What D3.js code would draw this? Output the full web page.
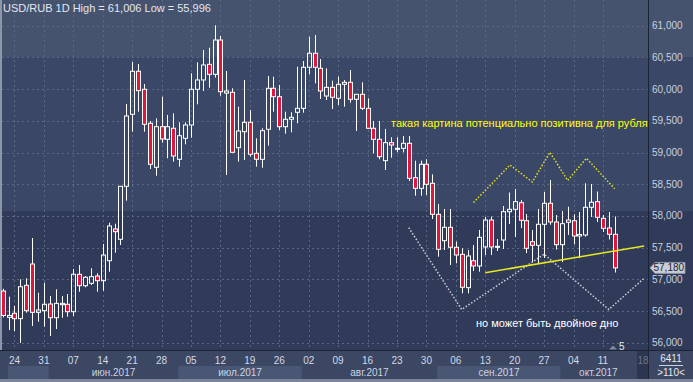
<!DOCTYPE html>
<html>
<head>
<meta charset="utf-8">
<script src="https://cdn.jsdelivr.net/npm/d3@7"></script>
<style>
  body { margin: 0; background: #2f3b58; }
  svg { display: block; }
  text { font-family: "Liberation Sans", Arial, sans-serif; }
</style>
</head>
<body>
<svg id="chart"></svg>
<script>
// USD/RUB daily candles, 22 May 2017 .. 13 Oct 2017
const opens = [56.815, 56.40, 56.464, 56.379, 56.905, 57.241, 56.479, 56.505, 56.61, 56.394,
  56.60, 56.606, 56.489, 57.079, 56.899, 56.937, 57.052, 56.978, 57.293, 57.793,
  57.631, 58.467, 59.603, 60.281, 59.997, 59.461, 58.767, 59.407, 59.208, 59.382,
  58.893, 59.224, 59.434, 59.997, 60.144, 60.391, 60.233, 60.774, 59.938, 59.95,
  59.076, 59.328, 59.476, 58.987, 58.893, 59.366, 60.013, 59.88, 59.407, 59.524,
  59.634, 59.697, 60.344, 60.565, 60.328, 59.891, 60.028, 59.855, 60.076, 60.107,
  59.839, 59.918, 59.697, 59.382, 59.208, 58.871, 59.155, 59.05, 59.066, 59.145,
  58.603, 58.435, 58.814, 58.514, 58.025, 57.609, 57.82, 57.505, 57.394, 56.868,
  57.293, 57.21, 57.51, 57.935, 57.51, 57.62, 58.066, 58.104, 58.208, 57.924,
  57.593, 57.536, 57.868, 58.199, 57.904, 57.546, 57.899, 57.924, 57.683, 57.699,
  58.136, 58.224, 57.962, 57.809, 57.71];
const highs = [56.85, 56.726, 56.579, 57.00, 57.016, 57.651, 56.789, 56.946, 56.737, 56.842,
  56.737, 56.768, 57.162, 57.226, 57.052, 57.174, 57.095, 57.557, 57.893, 57.877,
  58.47, 59.765, 60.427, 60.396, 60.08, 59.497, 59.539, 59.88, 59.592, 59.618,
  59.476, 59.476, 60.249, 60.423, 60.617, 60.653, 61.006, 60.838, 60.285, 60.013,
  59.722, 60.144, 59.67, 59.224, 59.382, 60.207, 60.196, 60.065, 59.644, 59.634,
  60.353, 60.443, 60.826, 60.853, 60.475, 60.328, 60.132, 60.196, 60.144, 60.301,
  59.918, 60.107, 59.855, 59.497, 59.497, 59.371, 59.24, 59.24, 59.26, 59.26,
  58.871, 58.871, 58.893, 58.656, 58.188, 58.109, 58.109, 57.593, 57.489, 57.462,
  57.541, 57.778, 57.983, 57.99, 57.636, 58.156, 58.369, 58.424, 58.251, 58.03,
  57.778, 58.109, 58.377, 58.566, 58.014, 58.077, 58.145, 58.025, 58.062, 58.514,
  58.503, 58.385, 58.014, 58.062, 57.991];
const lows = [56.40, 56.20, 56.185, 55.996, 56.473, 56.263, 56.331, 56.252, 56.106, 56.216,
  56.394, 56.41, 56.421, 56.804, 56.874, 56.91, 56.804, 56.82, 57.12, 57.42,
  57.541, 58.24, 59.328, 59.644, 59.328, 58.74, 58.634, 59.155, 58.909, 58.855,
  58.776, 59.129, 59.233, 59.76, 59.97, 60.022, 60.18, 59.896, 58.645, 59.0,
  58.855, 58.882, 58.934, 58.776, 58.76, 59.107, 59.644, 59.355, 59.297, 59.319,
  59.461, 59.628, 60.233, 60.091, 59.844, 59.828, 59.686, 59.749, 59.722, 59.785,
  59.339, 59.67, 59.371, 58.987, 58.893, 58.724, 58.918, 59.003, 59.003, 58.55,
  58.319, 58.319, 58.33, 57.951, 57.356, 57.462, 57.226, 57.252, 56.779, 56.779,
  57.131, 57.12, 57.383, 57.383, 57.446, 57.478, 57.872, 57.667, 57.809, 57.413,
  57.273, 57.252, 57.336, 57.861, 57.47, 57.273, 57.699, 57.552, 57.336, 57.672,
  57.983, 57.904, 57.746, 57.628, 57.107];
const closes = [56.43, 56.43, 56.379, 56.883, 56.505, 56.479, 56.516, 56.606, 56.394, 56.621,
  56.621, 56.489, 57.079, 56.899, 57.032, 57.041, 56.978, 57.383, 57.841, 57.751,
  58.467, 59.576, 60.281, 59.975, 59.445, 58.814, 59.407, 59.213, 59.407, 58.945,
  59.265, 59.434, 59.997, 60.144, 60.38, 60.233, 60.774, 59.959, 59.97, 59.003,
  59.339, 59.476, 58.972, 58.893, 59.344, 60.013, 59.88, 59.407, 59.524, 59.555,
  59.697, 60.344, 60.565, 60.344, 59.97, 60.028, 59.871, 60.076, 60.107, 59.839,
  59.918, 59.697, 59.382, 59.208, 58.934, 59.155, 59.118, 59.066, 59.145, 58.593,
  58.435, 58.814, 58.498, 58.025, 57.473, 57.82, 57.505, 57.383, 56.874, 57.368,
  57.21, 57.662, 57.935, 57.51, 57.52, 58.066, 58.104, 58.224, 57.931, 57.489,
  57.536, 57.868, 58.199, 57.904, 57.546, 57.877, 57.935, 57.683, 57.707, 58.136,
  58.215, 57.978, 57.804, 57.71, 57.18];

const firstDay = "2017-05-22";
const lastDay = "2017-10-13";
const tickDates = ["2017-05-24", "2017-05-31", "2017-06-07", "2017-06-14", "2017-06-21", "2017-06-28",
  "2017-07-05", "2017-07-12", "2017-07-19", "2017-07-26", "2017-08-02", "2017-08-09", "2017-08-16",
  "2017-08-23", "2017-08-30", "2017-09-06", "2017-09-13", "2017-09-20", "2017-09-27", "2017-10-04",
  "2017-10-11"];
const tickLabels = ["24", "31", "07", "14", "21", "28", "05", "12", "19", "26", "02", "09", "16",
  "23", "30", "06", "13", "20", "27", "04", "11"];
const monthKeys = ["2017-05", "2017-06", "2017-07", "2017-08", "2017-09", "2017-10"];
const monthLabels = ["", "июн.2017", "июл.2017", "авг.2017", "сен.2017", "окт.2017"];
const priceTicks = [56, 56.5, 57, 57.5, 58, 58.5, 59, 59.5, 60, 60.5, 61];
const lastPrice = 57.180;

// annotations, [bar index, price]
const supportLine = [[82, 57.104], [109, 57.525]];
const topZigzag = [[80, 58.211], [86.2, 58.803], [90, 58.535], [93, 59.003], [96, 58.558],
  [99.2, 58.909], [104, 58.427]];
const bottomZigzag = [[69, 57.814], [78, 56.524], [92, 57.396], [103, 56.524], [109, 57.016]];

const W = 693, H = 382;
const plotRight = 648, plotBottom = 350;

const parse = d3.timeParse("%Y-%m-%d");
const days = d3.timeDay.range(parse(firstDay), d3.timeDay.offset(parse(lastDay), 1))
  .filter(d => d.getDay() !== 0 && d.getDay() !== 6);
const fmtKey = d3.timeFormat("%Y-%m-%d");
const dayKeys = days.map(fmtKey);

const bars = days.map((d, i) => ({
  i: i, date: d, o: opens[i], h: highs[i], l: lows[i], c: closes[i]
}));

const x = d3.scaleLinear().domain([0, bars.length - 1]).range([2.7, 614.7]);
const y = d3.scaleLinear().domain([56, 61]).range([342.7, 25.7]);
const fmtPrice = v => v.toFixed(3).replace(".", ",");
const px = v => Math.round(v) + 0.5;

const svg = d3.select("#chart").attr("width", W).attr("height", H);

// background bands
const bands = [
  { y0: 0, y1: 57, fill: "#45536f" },
  { y0: 57, y1: 211, fill: "#3a4766" },
  { y0: 211, y1: plotBottom, fill: "#2f3b58" }
];
svg.selectAll(".band").data(bands).join("rect")
  .attr("x", 0).attr("y", d => d.y0)
  .attr("width", W).attr("height", d => d.y1 - d.y0)
  .attr("fill", d => d.fill);

// left border
svg.append("rect").attr("x", 0).attr("y", 0).attr("width", 2).attr("height", plotBottom)
  .attr("fill", "#8c95a9");

// grid
const grid = svg.append("g").attr("stroke", "#5b6783").attr("stroke-dasharray", "2,3");
grid.selectAll(".hg").data(priceTicks).join("line")
  .attr("x1", 2).attr("x2", plotRight)
  .attr("y1", d => px(y(d))).attr("y2", d => px(y(d)));
const tickIdx = tickDates.map(t => dayKeys.indexOf(t));
grid.selectAll(".vg").data(tickIdx).join("line")
  .attr("x1", d => px(x(d))).attr("x2", d => px(x(d)))
  .attr("y1", 0).attr("y2", plotBottom);

// candles: wick split around the body so hollow bodies stay clean
const candles = svg.append("g").selectAll("g").data(bars).join("g");
candles.append("line")
  .attr("x1", d => px(x(d.i))).attr("x2", d => px(x(d.i)))
  .attr("y1", d => y(d.h)).attr("y2", d => y(Math.max(d.o, d.c)))
  .attr("stroke", "#ffffff").attr("stroke-width", 1);
candles.append("line")
  .attr("x1", d => px(x(d.i))).attr("x2", d => px(x(d.i)))
  .attr("y1", d => y(Math.min(d.o, d.c))).attr("y2", d => y(d.l))
  .attr("stroke", "#ffffff").attr("stroke-width", 1);
candles.append("rect")
  .attr("x", d => Math.round(x(d.i)) - 1.5)
  .attr("width", 4)
  .attr("y", d => y(Math.max(d.o, d.c)))
  .attr("height", d => Math.max(1, Math.abs(y(d.o) - y(d.c))))
  .attr("fill", d => d.c < d.o ? "#e0163c" : "none")
  .attr("stroke", "#ffffff").attr("stroke-width", 1);

// annotations
const line = d3.line().x(d => x(d[0])).y(d => y(d[1]));
svg.append("path").attr("d", line(bottomZigzag))
  .attr("fill", "none").attr("stroke", "#c9d0dc").attr("stroke-width", 1.5)
  .attr("stroke-dasharray", "1.5,1.8");
svg.append("path").attr("d", line(topZigzag))
  .attr("fill", "none").attr("stroke", "#e3e31c").attr("stroke-width", 1.5)
  .attr("stroke-dasharray", "1.5,1.8");
svg.append("path").attr("d", line(supportLine))
  .attr("fill", "none").attr("stroke", "#e8e820").attr("stroke-width", 1.5);

svg.append("text").attr("x", 391).attr("y", 127)
  .attr("font-size", 11).attr("fill", "#ffff00")
  .text("такая картина потенциально позитивна для рубля");
svg.append("text").attr("x", 476).attr("y", 327)
  .attr("font-size", 11).attr("fill", "#ffffff")
  .text("но может быть двойное дно");

// title
svg.append("text").attr("x", 3).attr("y", 12)
  .attr("font-size", 11).attr("fill", "#e2e6ee")
  .text("USD/RUB 1D High = " + fmtPrice(d3.max(highs)) + " Low = " + fmtPrice(d3.min(lows)));

// small marker at the bottom
svg.append("path").attr("d", "M609,349.5 L613,345.5 L617,349.5 Z").attr("fill", "#7f89a0");
svg.append("text").attr("x", 619).attr("y", 349.5).attr("font-size", 10)
  .attr("fill", "#e6e9f0").text("5");

// right price axis
svg.append("line").attr("x1", plotRight + 0.5).attr("x2", plotRight + 0.5)
  .attr("y1", 0).attr("y2", H).attr("stroke", "#1b2335").attr("stroke-width", 1);
svg.selectAll(".ylab").data(priceTicks).join("text")
  .attr("x", 652).attr("y", d => y(d) + 3.5)
  .attr("font-size", 10).attr("fill", "#c9d0df")
  .text(fmtPrice);

// last price marker
const ly = y(lastPrice);
svg.append("path")
  .attr("d", `M650,${ly} L655,${ly - 5.5} L685,${ly - 5.5} L685,${ly + 5.5} L655,${ly + 5.5} Z`)
  .attr("fill", "#c9cdd6").attr("stroke", "#8e96a8").attr("stroke-width", 0.8);
svg.append("text").attr("x", 653.5).attr("y", ly + 3.5)
  .attr("font-size", 10).attr("fill", "#1c2436").text(fmtPrice(lastPrice));

// bottom axis
const axisG = svg.append("g");
axisG.append("rect").attr("x", 0).attr("y", plotBottom).attr("width", plotRight).attr("height", H - plotBottom)
  .attr("fill", "#3b4763");
axisG.append("line").attr("x1", 0).attr("x2", W).attr("y1", plotBottom + 0.5).attr("y2", plotBottom + 0.5)
  .attr("stroke", "#1b2335");

const monthStart = monthKeys.map(k => dayKeys.findIndex(d => d.startsWith(k)));
const monthBoxes = monthStart.map((s, j) => ({
  x0: j === 0 ? 8 : x(s) - 1,
  x1: j + 1 < monthStart.length ? x(monthStart[j + 1]) - 1 : plotRight - 12,
  label: monthLabels[j],
  light: j % 2 === 0
}));
axisG.selectAll(".mbox").data(monthBoxes).join("rect")
  .attr("x", d => d.x0).attr("y", 366).attr("width", d => d.x1 - d.x0).attr("height", 13)
  .attr("fill", d => d.light ? "#4a5774" : "#3b4763");
axisG.selectAll(".mlab").data(monthBoxes).join("text")
  .attr("x", d => (d.x0 + d.x1) / 2).attr("y", 375.5)
  .attr("text-anchor", "middle").attr("font-size", 10).attr("fill", "#cdd3e0")
  .text(d => d.label);
axisG.selectAll(".xlab").data(tickIdx).join("text")
  .attr("x", d => x(d)).attr("y", 364)
  .attr("text-anchor", "middle").attr("font-size", 10).attr("fill", "#d3d9e6")
  .text((d, j) => tickLabels[j]);

// future date box
axisG.append("rect").attr("x", 637).attr("y", 351).attr("width", 11).attr("height", 29)
  .attr("fill", "#2c3650");
axisG.append("text").attr("x", 643).attr("y", 364).attr("text-anchor", "middle")
  .attr("font-size", 10).attr("fill", "#6c7690").text("18");

axisG.append("rect").attr("x", 0).attr("y", 379).attr("width", W).attr("height", 3)
  .attr("fill", "#7b8498");

// bottom right info box
axisG.append("rect").attr("x", plotRight + 1).attr("y", plotBottom + 1).attr("width", W - plotRight - 1).attr("height", 28)
  .attr("fill", "#3b4763");
axisG.append("text").attr("x", 671).attr("y", 362).attr("text-anchor", "middle")
  .attr("font-size", 10).attr("fill", "#e6e9f0").text("6411");
axisG.append("line").attr("x1", 659).attr("x2", 683).attr("y1", 365.5).attr("y2", 365.5)
  .attr("stroke", "#c9d0df");
axisG.append("text").attr("x", 671).attr("y", 375.5).attr("text-anchor", "middle")
  .attr("font-size", 10).attr("fill", "#e6e9f0").text(">110<");
</script>
</body>
</html>
